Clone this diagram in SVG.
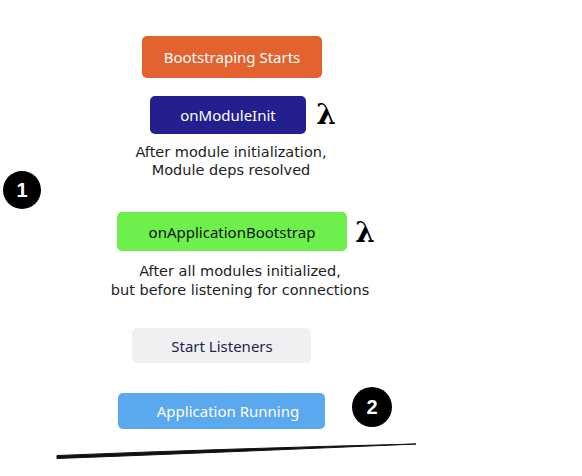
<svg xmlns="http://www.w3.org/2000/svg" width="582" height="476" viewBox="0 0 582 476">
<style>
.box{stroke:none}
.lbl{font-family:"Noto Sans","Liberation Sans",sans-serif;font-size:15px;text-anchor:middle;dominant-baseline:central}
.desc{font-family:"DejaVu Sans","Liberation Sans",sans-serif;font-size:14.5px;fill:#222;text-anchor:middle}
.lam{font-family:"DejaVu Serif","Liberation Serif",serif;font-size:28px;font-weight:bold;fill:#000;text-anchor:middle;dominant-baseline:central}
.num{font-family:"Liberation Sans",sans-serif;font-size:20px;font-weight:bold;fill:#fff;text-anchor:middle;dominant-baseline:central}
</style>
<rect width="582" height="476" fill="#ffffff"/>
<g id="bootstrap-starts">
<rect class="box" x="142" y="36" width="180" height="42" rx="5" fill="#e3622f"/>
<text class="lbl" x="232" y="57" fill="#ffffff">Bootstraping Starts</text>
</g>
<g id="on-module-init">
<rect class="box" x="150" y="96" width="156" height="38" rx="5" fill="#231f8e"/>
<text class="lbl" x="228" y="115" fill="#ffffff">onModuleInit</text>
<text class="lam" x="326" y="114">λ</text>
<text class="desc" x="231" y="157">After module initialization,</text>
<text class="desc" x="231" y="175">Module deps resolved</text>
</g>
<g id="marker-1">
<circle cx="22" cy="190" r="19" fill="#000"/>
<text class="num" x="22" y="190">1</text>
</g>
<g id="on-application-bootstrap">
<rect class="box" x="117" y="212" width="230" height="39" rx="5" fill="#6ef04c"/>
<text class="lbl" x="232" y="232" fill="#111111">onApplicationBootstrap</text>
<text class="lam" x="365" y="232">λ</text>
<text class="desc" x="240" y="276">After all modules initialized,</text>
<text class="desc" x="240" y="295">but before listening for connections</text>
</g>
<g id="start-listeners">
<rect class="box" x="132" y="328" width="179" height="35" rx="5" fill="#f0f0f2"/>
<text class="lbl" x="222" y="346" fill="#1f1f50">Start Listeners</text>
</g>
<g id="application-running">
<rect class="box" x="118" y="393" width="207" height="36" rx="5" fill="#5aa8ee"/>
<text class="lbl" x="228" y="411" fill="#ffffff">Application Running</text>
</g>
<g id="marker-2">
<circle cx="372" cy="407" r="20" fill="#000"/>
<text class="num" x="372" y="407">2</text>
</g>
<g id="connectors">
<path d="M57 455.5 Q230 448.5 416 444 Q230 452 57 458.5 Z" fill="#111" stroke="#111" stroke-width="1"/>
</g>
</svg>
